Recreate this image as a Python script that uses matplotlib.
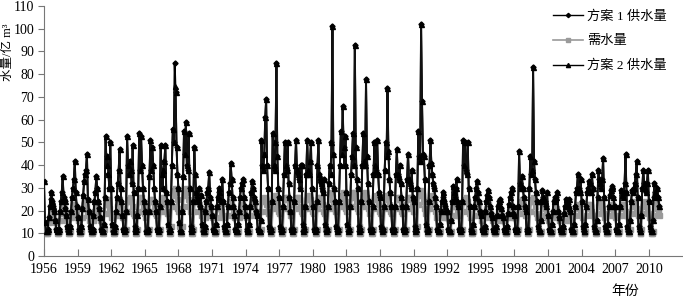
import numpy as np
import matplotlib
matplotlib.use("Agg")
import matplotlib.pyplot as plt
from matplotlib.lines import Line2D

# ---------------- data (monthly, Jan..Dec, 1956-2010) ----------------
years = list(range(1956, 2011))
tick_years = list(range(1956, 2011, 3))

supply1 = [
    [33, 15, 11, 11, 12, 17, 22, 25, 28, 24, 22, 20],   # 1956
    [16, 12, 11, 11, 12, 20, 24, 28, 35, 26, 24, 21],   # 1957
    [18, 13, 11, 11, 13, 20, 26, 30, 34, 42, 28, 22],   # 1958
    [17, 12, 11, 11, 13, 21, 27, 33, 36, 38, 45, 25],   # 1959
    [20, 13, 11, 11, 12, 18, 24, 28, 35, 30, 24, 21],   # 1960
    [17, 12, 11, 11, 14, 26, 53, 40, 44, 36, 30, 50],   # 1961
    [30, 14, 11, 11, 13, 20, 26, 32, 38, 47, 30, 24],   # 1962
    [18, 12, 11, 12, 20, 53, 40, 36, 42, 38, 32, 49],   # 1963
    [28, 13, 11, 12, 18, 30, 54, 38, 53, 40, 30, 24],   # 1964
    [20, 11, 11, 12, 20, 35, 51, 38, 48, 40, 30, 24],   # 1965
    [20, 12, 11, 12, 22, 49, 36, 30, 38, 42, 49, 28],   # 1966
    [24, 14, 11, 12, 24, 40, 56, 50, 85, 72, 48, 36],   # 1967
    [30, 15, 11, 11, 20, 35, 55, 45, 59, 40, 38, 54],   # 1968
    [30, 13, 11, 12, 24, 48, 36, 28, 26, 24, 30, 22],   # 1969
    [27, 14, 11, 11, 13, 20, 24, 28, 30, 37, 26, 22],   # 1970
    [18, 12, 11, 11, 14, 22, 26, 30, 28, 25, 24, 34],   # 1971
    [24, 13, 11, 11, 14, 22, 28, 32, 41, 34, 26, 22],   # 1972
    [18, 12, 11, 11, 14, 20, 26, 30, 32, 34, 26, 22],   # 1973
    [18, 12, 11, 11, 14, 22, 28, 33, 30, 26, 24, 20],   # 1974
    [18, 12, 11, 11, 16, 51, 40, 38, 45, 61, 69, 40],   # 1975
    [30, 13, 11, 12, 24, 54, 40, 38, 50, 85, 44, 30],   # 1976
    [26, 13, 11, 12, 22, 36, 50, 40, 38, 50, 32, 26],   # 1977
    [20, 12, 11, 12, 24, 40, 51, 38, 36, 34, 30, 40],   # 1978
    [40, 14, 11, 12, 22, 36, 51, 38, 36, 42, 50, 30],   # 1979
    [22, 12, 11, 12, 24, 40, 51, 36, 34, 32, 30, 28],   # 1980
    [34, 14, 11, 12, 22, 32, 40, 36, 50, 101, 45, 30],  # 1981
    [24, 13, 11, 12, 24, 40, 55, 45, 66, 48, 40, 53],   # 1982
    [28, 14, 11, 12, 22, 36, 44, 54, 40, 93, 48, 34],   # 1983
    [30, 13, 11, 12, 24, 40, 54, 42, 40, 78, 44, 32],   # 1984
    [24, 12, 11, 12, 22, 36, 50, 40, 38, 51, 36, 28],   # 1985
    [26, 13, 11, 12, 22, 38, 50, 44, 74, 46, 34, 28],   # 1986
    [22, 12, 11, 12, 22, 36, 47, 36, 34, 40, 32, 26],   # 1987
    [22, 12, 11, 12, 22, 34, 45, 34, 32, 30, 38, 26],   # 1988
    [24, 13, 11, 12, 30, 55, 44, 42, 102, 68, 45, 44],  # 1989
    [34, 14, 11, 12, 24, 40, 51, 41, 36, 32, 30, 26],   # 1990
    [22, 12, 11, 11, 14, 20, 24, 28, 26, 24, 22, 20],   # 1991
    [20, 12, 11, 11, 16, 24, 31, 28, 26, 30, 34, 24],   # 1992
    [22, 12, 11, 12, 24, 51, 40, 50, 38, 36, 50, 30],   # 1993
    [22, 12, 11, 11, 14, 22, 26, 30, 33, 28, 24, 20],   # 1994
    [18, 12, 11, 11, 13, 20, 24, 27, 29, 26, 22, 19],   # 1995
    [17, 12, 11, 11, 13, 18, 22, 23, 24, 25, 21, 18],   # 1996
    [17, 12, 11, 11, 13, 19, 23, 26, 28, 30, 22, 19],   # 1997
    [18, 12, 11, 12, 22, 46, 32, 30, 35, 30, 26, 22],   # 1998
    [20, 12, 11, 12, 30, 44, 36, 38, 83, 42, 34, 28],   # 1999
    [24, 13, 11, 11, 16, 24, 29, 26, 25, 24, 22, 28],   # 2000
    [18, 12, 11, 11, 14, 20, 24, 26, 25, 26, 28, 20],   # 2001
    [17, 12, 11, 11, 13, 19, 22, 25, 24, 23, 21, 25],   # 2002
    [20, 12, 11, 11, 14, 22, 28, 30, 36, 30, 28, 34],   # 2003
    [24, 13, 11, 11, 14, 22, 28, 30, 33, 32, 28, 36],   # 2004
    [30, 13, 11, 11, 16, 26, 38, 34, 32, 30, 34, 43],   # 2005
    [26, 13, 11, 11, 14, 22, 27, 29, 31, 30, 26, 22],   # 2006
    [22, 12, 11, 11, 14, 22, 29, 27, 26, 28, 32, 45],   # 2007
    [28, 13, 11, 11, 16, 24, 29, 28, 30, 32, 36, 42],   # 2008
    [26, 13, 11, 11, 18, 30, 38, 32, 30, 28, 32, 38],   # 2009
    [24, 13, 11, 11, 16, 26, 32, 28, 26, 30, 26, 22],   # 2010
]

supply2 = [
    [33, 15, 11, 11, 12, 17, 22, 25, 28, 24, 22, 20],   # 1956
    [16, 12, 11, 11, 12, 20, 24, 28, 35, 26, 24, 21],   # 1957
    [18, 13, 11, 11, 13, 20, 26, 30, 34, 42, 28, 22],   # 1958
    [17, 12, 11, 11, 13, 21, 27, 33, 36, 38, 45, 25],   # 1959
    [20, 13, 11, 11, 12, 18, 24, 28, 35, 30, 24, 21],   # 1960
    [17, 12, 11, 11, 14, 26, 53, 40, 44, 36, 30, 50],   # 1961
    [30, 14, 11, 11, 13, 20, 26, 32, 38, 47, 30, 24],   # 1962
    [18, 12, 11, 12, 20, 53, 40, 36, 42, 38, 32, 49],   # 1963
    [28, 13, 11, 12, 18, 30, 54, 38, 53, 40, 30, 24],   # 1964
    [20, 11, 11, 12, 20, 35, 51, 38, 48, 40, 30, 24],   # 1965
    [20, 12, 11, 12, 22, 49, 36, 30, 38, 42, 49, 28],   # 1966
    [24, 14, 11, 12, 24, 40, 56, 50, 75, 72, 48, 36],   # 1967
    [30, 15, 11, 11, 20, 35, 55, 45, 59, 40, 38, 54],   # 1968
    [30, 13, 11, 12, 24, 48, 36, 28, 26, 24, 30, 22],   # 1969
    [27, 14, 11, 11, 13, 20, 24, 28, 30, 37, 26, 22],   # 1970
    [18, 12, 11, 11, 14, 22, 26, 30, 28, 25, 24, 34],   # 1971
    [24, 13, 11, 11, 14, 22, 28, 32, 41, 34, 26, 22],   # 1972
    [18, 12, 11, 11, 14, 20, 26, 30, 32, 34, 26, 22],   # 1973
    [18, 12, 11, 11, 14, 22, 28, 33, 30, 26, 24, 20],   # 1974
    [18, 12, 11, 11, 16, 51, 40, 38, 45, 61, 69, 40],   # 1975
    [30, 13, 11, 12, 24, 54, 40, 38, 50, 85, 44, 30],   # 1976
    [26, 13, 11, 12, 22, 36, 50, 40, 38, 50, 32, 26],   # 1977
    [20, 12, 11, 12, 24, 40, 51, 38, 36, 34, 30, 40],   # 1978
    [40, 14, 11, 12, 22, 36, 51, 38, 36, 42, 50, 30],   # 1979
    [22, 12, 11, 12, 24, 40, 51, 36, 34, 32, 30, 28],   # 1980
    [34, 14, 11, 12, 22, 32, 40, 36, 50, 101, 45, 30],  # 1981
    [24, 13, 11, 12, 24, 40, 55, 45, 66, 48, 40, 53],   # 1982
    [28, 14, 11, 12, 22, 36, 44, 54, 40, 93, 48, 34],   # 1983
    [30, 13, 11, 12, 24, 40, 54, 42, 40, 78, 44, 32],   # 1984
    [24, 12, 11, 12, 22, 36, 50, 40, 38, 51, 36, 28],   # 1985
    [26, 13, 11, 12, 22, 38, 50, 44, 74, 46, 34, 28],   # 1986
    [22, 12, 11, 12, 22, 36, 47, 36, 34, 40, 32, 26],   # 1987
    [22, 12, 11, 12, 22, 34, 45, 34, 32, 30, 38, 26],   # 1988
    [24, 13, 11, 12, 30, 55, 44, 42, 102, 68, 45, 44],  # 1989
    [34, 14, 11, 12, 24, 40, 51, 41, 36, 32, 30, 26],   # 1990
    [22, 12, 11, 11, 14, 20, 24, 28, 26, 24, 22, 20],   # 1991
    [20, 12, 11, 11, 16, 24, 31, 28, 26, 30, 34, 24],   # 1992
    [22, 12, 11, 12, 24, 51, 40, 50, 38, 36, 50, 30],   # 1993
    [22, 12, 11, 11, 14, 22, 26, 30, 33, 28, 24, 20],   # 1994
    [18, 12, 11, 11, 13, 20, 24, 27, 29, 26, 22, 19],   # 1995
    [17, 12, 11, 11, 13, 18, 22, 23, 24, 25, 21, 18],   # 1996
    [17, 12, 11, 11, 13, 19, 23, 26, 28, 30, 22, 19],   # 1997
    [18, 12, 11, 12, 22, 46, 32, 30, 35, 30, 26, 22],   # 1998
    [20, 12, 11, 12, 30, 44, 36, 38, 83, 42, 34, 28],   # 1999
    [24, 13, 11, 11, 16, 24, 29, 26, 25, 24, 22, 28],   # 2000
    [18, 12, 11, 11, 14, 20, 24, 26, 25, 26, 28, 20],   # 2001
    [17, 12, 11, 11, 13, 19, 22, 25, 24, 23, 21, 25],   # 2002
    [20, 12, 11, 11, 14, 22, 28, 30, 36, 30, 28, 34],   # 2003
    [24, 13, 11, 11, 14, 22, 28, 30, 33, 32, 28, 36],   # 2004
    [30, 13, 11, 11, 16, 26, 38, 34, 32, 30, 34, 43],   # 2005
    [26, 13, 11, 11, 14, 22, 27, 29, 31, 30, 26, 22],   # 2006
    [22, 12, 11, 11, 14, 22, 29, 27, 26, 28, 32, 45],   # 2007
    [28, 13, 11, 11, 16, 24, 29, 28, 30, 32, 36, 42],   # 2008
    [26, 13, 11, 11, 18, 30, 38, 32, 30, 28, 32, 38],   # 2009
    [24, 13, 11, 11, 16, 26, 32, 28, 26, 30, 26, 22],   # 2010
]

demand = [
    [15, 12, 10, 10, 11, 15, 18, 20, 21, 20, 18, 16],   # 1956
    [15, 12, 10, 10, 11, 16, 19, 21, 22, 21, 19, 17],   # 1957
    [16, 12, 10, 10, 11, 17, 20, 22, 23, 22, 20, 17],   # 1958
    [16, 12, 10, 10, 11, 17, 21, 23, 24, 22, 20, 18],   # 1959
    [16, 12, 10, 10, 11, 16, 20, 22, 23, 21, 19, 17],   # 1960
    [16, 12, 10, 10, 12, 19, 23, 25, 25, 23, 21, 19],   # 1961
    [17, 12, 10, 10, 11, 18, 22, 24, 25, 23, 21, 18],   # 1962
    [17, 12, 10, 10, 12, 20, 24, 25, 26, 24, 22, 19],   # 1963
    [18, 12, 10, 10, 12, 20, 24, 26, 26, 24, 22, 19],   # 1964
    [17, 11, 10, 10, 12, 20, 24, 25, 25, 24, 22, 19],   # 1965
    [18, 12, 10, 10, 12, 20, 24, 26, 26, 25, 23, 20],   # 1966
    [19, 13, 10, 10, 13, 22, 27, 29, 30, 28, 25, 21],   # 1967
    [20, 13, 10, 10, 13, 22, 27, 29, 30, 28, 25, 22],   # 1968
    [20, 13, 10, 10, 12, 20, 25, 27, 27, 25, 23, 20],   # 1969
    [18, 12, 10, 10, 11, 17, 21, 23, 24, 22, 20, 18],   # 1970
    [17, 12, 10, 10, 11, 17, 21, 22, 23, 21, 20, 18],   # 1971
    [17, 12, 10, 10, 11, 18, 22, 23, 24, 22, 20, 18],   # 1972
    [17, 12, 10, 10, 11, 17, 21, 23, 23, 22, 20, 18],   # 1973
    [17, 12, 10, 10, 11, 18, 22, 23, 24, 22, 20, 18],   # 1974
    [18, 12, 10, 10, 12, 20, 24, 25, 26, 25, 23, 20],   # 1975
    [19, 12, 10, 10, 12, 21, 25, 26, 27, 26, 23, 20],   # 1976
    [19, 12, 10, 10, 12, 21, 25, 26, 26, 25, 23, 20],   # 1977
    [18, 12, 10, 10, 12, 21, 25, 26, 26, 25, 22, 20],   # 1978
    [19, 12, 10, 10, 12, 21, 25, 26, 27, 25, 23, 20],   # 1979
    [19, 12, 10, 10, 12, 21, 25, 26, 26, 25, 23, 20],   # 1980
    [19, 12, 10, 10, 12, 21, 25, 27, 28, 26, 23, 21],   # 1981
    [20, 13, 10, 10, 12, 22, 26, 27, 28, 26, 24, 21],   # 1982
    [20, 13, 10, 10, 12, 22, 26, 28, 28, 27, 24, 21],   # 1983
    [20, 13, 10, 10, 12, 22, 26, 27, 28, 26, 24, 21],   # 1984
    [19, 12, 10, 10, 12, 21, 25, 26, 27, 25, 23, 20],   # 1985
    [19, 12, 10, 10, 12, 21, 25, 27, 27, 26, 23, 20],   # 1986
    [19, 12, 10, 10, 12, 21, 25, 26, 26, 25, 23, 20],   # 1987
    [19, 12, 10, 10, 12, 21, 25, 26, 26, 25, 22, 20],   # 1988
    [20, 13, 10, 10, 13, 23, 27, 28, 29, 27, 24, 21],   # 1989
    [19, 12, 10, 10, 12, 21, 25, 26, 27, 25, 23, 20],   # 1990
    [17, 12, 10, 10, 11, 17, 21, 22, 23, 21, 19, 17],   # 1991
    [17, 12, 10, 10, 11, 18, 22, 23, 23, 22, 20, 18],   # 1992
    [18, 12, 10, 10, 12, 20, 24, 25, 26, 24, 22, 19],   # 1993
    [17, 12, 10, 10, 11, 18, 22, 23, 24, 22, 20, 18],   # 1994
    [16, 12, 10, 10, 11, 17, 21, 22, 23, 21, 19, 17],   # 1995
    [16, 11, 10, 10, 11, 16, 20, 21, 21, 20, 18, 16],   # 1996
    [16, 11, 10, 10, 11, 17, 20, 22, 22, 21, 19, 17],   # 1997
    [17, 12, 10, 10, 12, 19, 23, 24, 25, 23, 21, 18],   # 1998
    [18, 12, 10, 10, 12, 20, 24, 25, 26, 24, 22, 19],   # 1999
    [17, 12, 10, 10, 11, 18, 21, 22, 22, 21, 19, 17],   # 2000
    [16, 11, 10, 10, 11, 17, 20, 21, 22, 21, 19, 17],   # 2001
    [16, 11, 10, 10, 11, 16, 19, 21, 21, 20, 18, 16],   # 2002
    [17, 12, 10, 10, 11, 18, 21, 22, 23, 22, 20, 18],   # 2003
    [17, 12, 10, 10, 11, 18, 21, 23, 23, 22, 20, 18],   # 2004
    [18, 12, 10, 10, 12, 19, 22, 24, 24, 23, 21, 19],   # 2005
    [17, 12, 10, 10, 11, 18, 21, 22, 23, 22, 20, 18],   # 2006
    [17, 12, 10, 10, 11, 18, 21, 22, 23, 22, 20, 18],   # 2007
    [18, 12, 10, 10, 12, 19, 22, 23, 24, 23, 21, 19],   # 2008
    [18, 12, 10, 10, 12, 19, 22, 23, 24, 23, 21, 19],   # 2009
    [17, 12, 10, 10, 11, 18, 21, 22, 23, 22, 20, 18],   # 2010
]

labels = ["方案 1 供水量", "需水量", "方案 2 供水量"]

# ---------------- plotting ----------------
plt.rcParams['font.family'] = ['Liberation Serif', 'Noto Sans CJK SC']

s1 = np.array(supply1, dtype=float).ravel()
s2 = np.array(supply2, dtype=float).ravel()
dm = np.array(demand, dtype=float).ravel()
x = np.arange(len(s1))

fig = plt.figure(figsize=(6.83, 2.99), dpi=100)
ax = fig.add_axes([44 / 683, 43 / 299, 639 / 683, 250 / 299])

ax.plot(x, s1, color='black', lw=1.4, marker='D', ms=2.6,
        mfc='black', mec='black', zorder=2)
ax.plot(x, dm, color='#9a9a9a', lw=1.5, marker='s', ms=3.6,
        mfc='#9a9a9a', mec='#9a9a9a', zorder=1)
ax.plot(x, s2, color='#111111', lw=1.3, marker='^', ms=3.6,
        mfc='black', mec='black', zorder=3)

ax.set_xlim(0, 684.6)
ax.set_ylim(0, 110)
ax.set_yticks(np.arange(0, 111, 10))
ax.set_xticks([(y - 1956) * 12 for y in tick_years])
ax.set_xticklabels([str(y) for y in tick_years])

for side in ['top', 'right']:
    ax.spines[side].set_visible(False)
for side in ['left', 'bottom']:
    ax.spines[side].set_color('#777777')
    ax.spines[side].set_linewidth(0.8)

ax.tick_params(axis='x', direction='in', length=5, color='#777777',
               labelsize=10, pad=5)
ax.tick_params(axis='y', direction='out', length=4, color='#777777',
               labelsize=10, pad=3)

fig.text(625 / 683, 1 - 291 / 299, '年份', ha='center', va='center', fontsize=10)
fig.text(8 / 683, 1 - 52 / 299, '水量/亿 m³', rotation=90,
         ha='center', va='center', fontsize=9)

h1 = Line2D([], [], color='black', lw=1.0, marker='D', ms=2.2)
h2 = Line2D([], [], color='#9a9a9a', lw=1.2, marker='s', ms=3.2)
h3 = Line2D([], [], color='black', lw=1.0, marker='^', ms=3.0)
fig.legend([h1, h2, h3], labels, loc='upper left',
           bbox_to_anchor=(553 / 683, 1 - 10 / 299), frameon=False,
           fontsize=9.5, handlelength=2.3, handletextpad=0.3,
           labelspacing=0.95, borderpad=0, borderaxespad=0, numpoints=1)

fig.savefig('out.png', dpi=100)
